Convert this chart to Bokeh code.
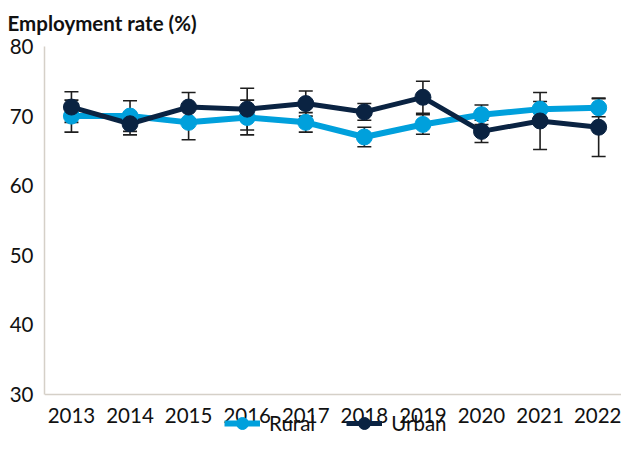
from bokeh.plotting import figure
from bokeh.models import ColumnDataSource, Legend, LegendItem, FixedTicker, Range1d
from bokeh.embed import file_html
from bokeh.resources import INLINE

# Employment rate by area, with error margins
years = [2013, 2014, 2015, 2016, 2017, 2018, 2019, 2020, 2021, 2022]
rural = [70.0, 70.0, 69.1, 69.8, 69.1, 67.0, 68.8, 70.2, 71.0, 71.2]
rural_err = [2.3, 2.2, 2.5, 2.5, 1.4, 1.4, 1.4, 1.4, 1.1, 1.3]
urban = [71.3, 68.9, 71.3, 71.0, 71.8, 70.6, 72.7, 67.8, 69.3, 68.4]
urban_err = [2.2, 1.6, 2.1, 3.0, 1.8, 1.2, 2.3, 1.6, 4.1, 4.2]
y_ticks = [30, 40, 50, 60, 70, 80]

RURAL_C = "#00A0DC"
URBAN_C = "#0A2342"
BAR_C = "#1E1E1E"
AXIS_C = "#D5D0C8"
FONT = "Lato"
FS = "20.5px"


def src(vals, errs):
    return ColumnDataSource(dict(
        x=years, y=vals,
        lo=[v - e for v, e in zip(vals, errs)],
        hi=[v + e for v, e in zip(vals, errs)],
    ))


rs = src(rural, rural_err)
us = src(urban, urban_err)

# the frame runs to the bottom edge so the legend can sit under the x axis;
# the value axis is bounded to 30..80 and the x axis is pinned at y = 30
p = figure(width=621, height=467, output_backend="svg", toolbar_location=None,
           x_range=Range1d(2012.54, 2022.39), y_range=Range1d(19.51, 80),
           min_border_left=44, min_border_right=0, min_border_top=46,
           min_border_bottom=0, outline_line_color=None)
p.xgrid.visible = False
p.ygrid.visible = False

# title
p.title.text = "Employment rate (%)"
p.title.text_font = FONT
p.title.text_font_size = FS
p.title.text_font_style = "bold"
p.title.text_color = "#111111"
p.title.align = "left"
p.title.vertical_align = "top"
p.title.offset = -37
p.title.standoff = 19

# lines
rl = p.line("x", "y", source=rs, line_color=RURAL_C, line_width=6)
ul = p.line("x", "y", source=us, line_color=URBAN_C, line_width=5)

# error bars
for s in (rs, us):
    p.segment(x0="x", y0="lo", x1="x", y1="hi", source=s,
              line_color=BAR_C, line_width=1.6)
    p.scatter("x", "lo", source=s, marker="dash", size=14,
              line_color=BAR_C, line_width=1.6)
    p.scatter("x", "hi", source=s, marker="dash", size=14,
              line_color=BAR_C, line_width=1.6)

# markers
rm = p.scatter("x", "y", source=rs, size=16, fill_color=RURAL_C, line_color=RURAL_C)
um = p.scatter("x", "y", source=us, size=16, fill_color=URBAN_C, line_color=URBAN_C)

# axes
p.xaxis.ticker = FixedTicker(ticks=years)
p.yaxis.ticker = FixedTicker(ticks=y_ticks)
for ax in (p.xaxis[0], p.yaxis[0]):
    ax.axis_line_color = AXIS_C
    ax.axis_line_width = 1.5
    ax.major_tick_line_color = None
    ax.minor_tick_line_color = None
    ax.major_tick_out = 0
    ax.major_label_text_font = FONT
    ax.major_label_text_font_size = FS
    ax.major_label_text_color = "#111111"
p.xaxis.fixed_location = y_ticks[0]
p.yaxis.bounds = (y_ticks[0], y_ticks[-1])
p.xaxis.major_label_standoff = 14
p.yaxis.major_label_standoff = 11

# legend under the x axis labels
legend = Legend(items=[
    LegendItem(label="Rural", renderers=[rl, rm]),
    LegendItem(label="Urban", renderers=[ul, um]),
], orientation="horizontal", location=(180, 29),
    label_text_font=FONT, label_text_font_size=FS, label_text_color="#111111",
    glyph_width=36, glyph_height=30, label_standoff=9, spacing=31,
    border_line_color=None, background_fill_alpha=0, margin=0, padding=0)
p.add_layout(legend, "center")

open("out.html", "w").write(file_html(p, INLINE))
